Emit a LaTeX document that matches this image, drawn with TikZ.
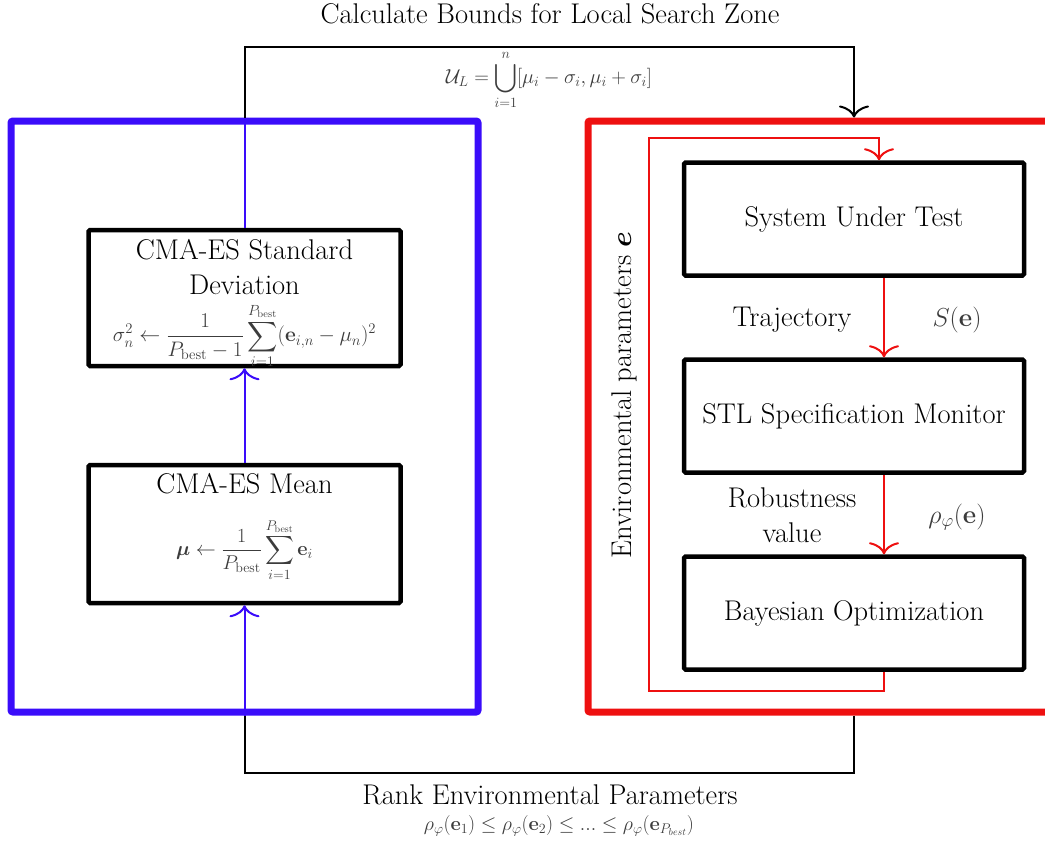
\RequirePackage{fix-cm}
\documentclass[tikz,border=0pt]{standalone}
\usepackage{amsmath,amssymb}
\usetikzlibrary{arrows.meta,calc}
\definecolor{myblue}{RGB}{58,12,250}
\definecolor{myred}{RGB}{238,16,16}
\definecolor{mathgray}{RGB}{60,60,60}
\begin{document}
\begin{tikzpicture}[x=1pt,y=-1pt,
  txt/.style={font=\fontsize{28.5}{35}\selectfont, text=black, inner sep=0pt},
  mtxt/.style={font=\fontsize{26}{30}\selectfont, text=mathgray, inner sep=0pt},
  outer/.style={line width=7pt, rounded corners=2pt, inner sep=0pt},
  box/.style={draw=black, line width=4.5pt, rounded corners=1.5pt, minimum width=312pt, minimum height=136pt, inner sep=0pt, align=center, font=\fontsize{28.5}{35}\selectfont},
  rbox/.style={box, minimum width=340pt, minimum height=113pt},
  tip/.style={-{Computer Modern Rightarrow[length=12pt,width=30pt,line width=2pt]}},
  conn/.style={line width=2pt}]
\clip (0,0) rectangle (1045,841);
% outer boxes
\node[outer, draw=myblue, minimum width=467pt, minimum height=591pt] (bluebox) at (244.5,416.5) {};
\node[outer, draw=myred, minimum width=480pt, minimum height=591pt] (redbox) at (828,416.5) {};
% left blocks
\node[box] (std) at (244.5,298) {};
\node[txt, align=center] (stdt) at (244.5,267) {CMA-ES Standard\\Deviation};
\node[mtxt, font=\fontsize{21}{25}\selectfont] (stdf) at (244.5,336) {$\displaystyle\sigma_n^2\leftarrow\frac{1}{P_{\mathrm{best}}-1}\sum_{i=1}^{P_{\mathrm{best}}}(\mathbf{e}_{i,n}-\mu_n)^2$};
\node[box, minimum height=138pt] (mean) at (244.5,534) {};
\node[txt] (meant) at (244.5,484) {CMA-ES Mean};
\node[mtxt, font=\fontsize{20}{24}\selectfont] (meanf) at (244.5,550) {$\displaystyle\boldsymbol{\mu}\leftarrow\frac{1}{P_{\mathrm{best}}}\sum_{i=1}^{P_{\mathrm{best}}}\mathbf{e}_i$};
% right blocks
\node[rbox] (sut) at (854,219) {System Under Test};
\node[rbox] (stl) at (854,416) {STL Specification Monitor};
\node[rbox] (bo) at (854,613) {Bayesian Optimization};
% labels
\node[txt] (title) at (550,14) {Calculate Bounds for Local Search Zone};
\node[mtxt, font=\fontsize{20.3}{24}\selectfont] (ul) at (549,80) {$\displaystyle\mathcal{U}_L=\bigcup_{i=1}^{n}[\mu_i-\sigma_i,\mu_i+\sigma_i]$};
\node[txt] (traj) at (792,320) {Trajectory};
\node[mtxt] (se) at (957,320) {$S(\mathbf{e})$};
\node[txt, align=center] (rob) at (792,515) {Robustness\\value};
\node[mtxt] (rho) at (957,517) {$\rho_\varphi(\mathbf{e})$};
\node[txt, rotate=90] (env) at (624,395) {Environmental parameters $\boldsymbol{e}$};
\node[txt] (rank) at (550,795) {Rank Environmental Parameters};
\node[mtxt, font=\fontsize{20}{24}\selectfont] (rankf) at (559,826) {$\rho_\varphi(\mathbf{e}_1)\leq\rho_\varphi(\mathbf{e}_2)\leq ...\leq\rho_\varphi(\mathbf{e}_{P_{best}})$};
% coordinates for connectors
\coordinate (tl) at (244.5,47);
\coordinate (tr) at (854,47);
\coordinate (bl) at (244.5,773);
\coordinate (br) at (854,773);
\coordinate (lpl) at (649,691);
\coordinate (lpt) at (649,138);
% top and bottom connectors
\draw[conn, tip] (bluebox.north) -- (tl) -- (tr) -- (redbox.north -| tr);
\draw[conn] (redbox.south -| br) -- (br) -- (bl) -- (bluebox.south);
% blue connectors
\draw[conn, myblue] (bluebox.north) -- (std.north);
\draw[conn, myblue, tip] (mean.north) -- (std.south);
\draw[conn, myblue, tip] (bluebox.south) -- (mean.south);
% red connectors
\draw[conn, myred, tip] ($(sut.south)+(30,0)$) -- ($(stl.north)+(30,0)$);
\draw[conn, myred, tip] ($(stl.south)+(30,0)$) -- ($(bo.north)+(30,0)$);
\draw[line width=1.8pt, myred, tip] ($(bo.south)+(30,0)$) |- (lpl) -- (lpt) -| ($(sut.north)+(25,0)$);
\end{tikzpicture}
\end{document}
